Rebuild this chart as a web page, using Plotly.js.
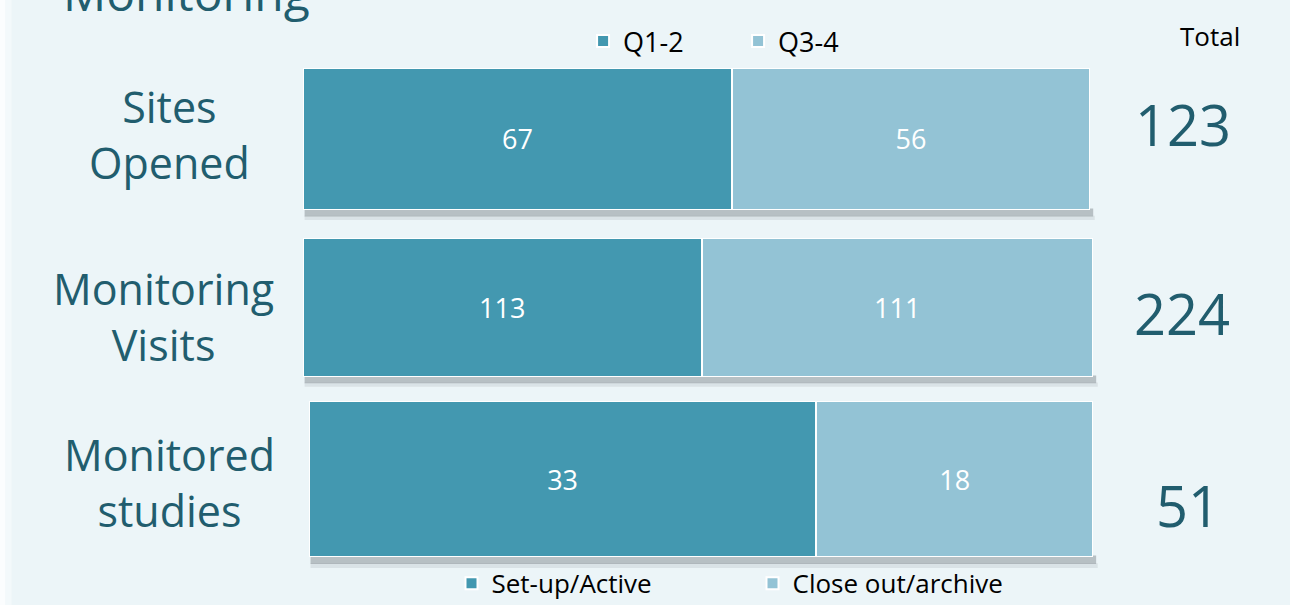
<!DOCTYPE html>
<html>
<head>
<meta charset="utf-8">
<script src="https://cdn.plot.ly/plotly-3.0.1.min.js"></script>
<style>html,body{margin:0;padding:0;background:#ecf5f8;}#chart{width:1290px;height:605px;}</style>
</head>
<body>
<div id="chart"></div>
<script>
// ---- data ----
const categories = ['Sites<br>Opened', 'Monitoring<br>Visits', 'Monitored<br>studies'];
const firstPart = [67, 113, 33];
const secondPart = [56, 111, 18];
const totals = [123, 224, 51];
const firstNames = ['Q1-2', 'Q1-2', 'Set-up/Active'];
const secondNames = ['Q3-4', 'Q3-4', 'Close out/archive'];
const chartTitle = 'Monitoring';
const totalHeader = 'Total';

// ---- styling / layout ----
const darkColor = '#4398b0';
const lightColor = '#93c3d5';
const textTeal = '#215d6e';
const FONT = 'Open Sans, Noto Sans, sans-serif';

const xDomains = [[0.2349, 0.8450], [0.2349, 0.8473], [0.2395, 0.8473]];
const yDomains = [[0.6529, 0.8876], [0.3769, 0.6066], [0.0793, 0.3372]];
const legendFor = ['legend', null, 'legend2'];
const labelX = [0.1315, 0.1265, 0.1315];
const labelY = [0.778, 0.477, 0.203];
const totalX = [0.917, 0.916, 0.921];
const totalY = [0.795, 0.483, 0.165];

const traces = [];
const layout = {
  width: 1290, height: 605,
  margin: {l: 0, r: 0, t: 0, b: 0, autoexpand: false},
  paper_bgcolor: '#ecf5f8',
  plot_bgcolor: 'rgba(0,0,0,0)',
  barmode: 'stack',
  bargap: 0,
  font: {family: FONT, color: '#000'},
  showlegend: true,
  legend: {orientation: 'h', x: 0.452, y: 0.972, xanchor: 'left', yanchor: 'top',
           bgcolor: 'rgba(0,0,0,0)', font: {size: 27, color: '#000', family: FONT},
           entrywidth: 110, traceorder: 'normal'},
  legend2: {orientation: 'h', x: 0.35, y: -0.003, xanchor: 'left', yanchor: 'bottom',
           bgcolor: 'rgba(0,0,0,0)', font: {size: 26, color: '#000', family: FONT},
           entrywidth: 256, traceorder: 'normal'},
  annotations: [],
  shapes: []
};

for (let i = 0; i < 3; i++) {
  const sfx = i === 0 ? '' : String(i + 1);
  const xa = 'x' + sfx, ya = 'y' + sfx;
  const common = {
    type: 'bar', orientation: 'h', y: [categories[i]], xaxis: xa, yaxis: ya,
    textposition: 'inside', insidetextanchor: 'middle',
    textfont: {color: '#ffffff', size: 27, family: FONT},
    hoverinfo: 'skip', cliponaxis: false
  };
  const t1 = Object.assign({}, common, {
    x: [firstPart[i]], text: [String(firstPart[i])], name: firstNames[i],
    marker: {color: darkColor, line: {color: '#ffffff', width: 2}}
  });
  const t2 = Object.assign({}, common, {
    x: [secondPart[i]], text: [String(secondPart[i])], name: secondNames[i],
    marker: {color: lightColor, line: {color: '#ffffff', width: 2}}
  });
  if (legendFor[i]) { t1.legend = legendFor[i]; t2.legend = legendFor[i]; }
  else { t1.showlegend = false; t2.showlegend = false; }
  traces.push(t1, t2);

  layout['xaxis' + sfx] = {domain: xDomains[i], range: [0, firstPart[i] + secondPart[i]],
    visible: false, fixedrange: true, anchor: ya};
  layout['yaxis' + sfx] = {domain: yDomains[i], range: [-0.5, 0.5],
    visible: false, fixedrange: true, anchor: xa};

  // soft shadow under each bar
  layout.shapes.push({type: 'rect', layer: 'below', xref: xa + ' domain', yref: ya + ' domain',
    x0: 0.002, x1: 1.004, y0: -0.045, y1: 0.01, line: {width: 0},
    fillcolor: 'rgba(110,120,125,0.42)'});
  layout.shapes.push({type: 'rect', layer: 'below', xref: xa + ' domain', yref: ya + ' domain',
    x0: 0.002, x1: 1.006, y0: -0.07, y1: -0.04, line: {width: 0},
    fillcolor: 'rgba(110,120,125,0.14)'});

  // category label
  layout.annotations.push({xref: 'paper', yref: 'paper', x: labelX[i], y: labelY[i],
    xanchor: 'center', yanchor: 'middle', align: 'center', showarrow: false,
    text: categories[i], font: {size: 43, color: textTeal, family: FONT}});
  // total
  layout.annotations.push({xref: 'paper', yref: 'paper', x: totalX[i], y: totalY[i],
    xanchor: 'center', yanchor: 'middle', showarrow: false,
    text: String(totals[i]), font: {size: 56, color: textTeal, family: FONT}});
}

// header texts
layout.annotations.push({xref: 'paper', yref: 'paper', x: 0.938, y: 0.941,
  xanchor: 'center', yanchor: 'middle', showarrow: false,
  text: totalHeader, font: {size: 26, color: '#000', family: FONT}});
layout.annotations.push({xref: 'paper', yref: 'paper', x: 0.047, y: 0.955,
  xanchor: 'left', yanchor: 'bottom', showarrow: false,
  text: chartTitle, font: {size: 48, color: textTeal, family: FONT}});

// left white fade
layout.shapes.push({type: 'rect', layer: 'below', xref: 'paper', yref: 'paper',
  x0: 0, x1: 0.004, y0: 0, y1: 1, line: {width: 0}, fillcolor: 'rgba(255,255,255,0.8)'});
layout.shapes.push({type: 'rect', layer: 'below', xref: 'paper', yref: 'paper',
  x0: 0.004, x1: 0.009, y0: 0, y1: 1, line: {width: 0}, fillcolor: 'rgba(255,255,255,0.4)'});

Plotly.newPlot('chart', traces, layout, {displayModeBar: false, staticPlot: true});
</script>
</body>
</html>
